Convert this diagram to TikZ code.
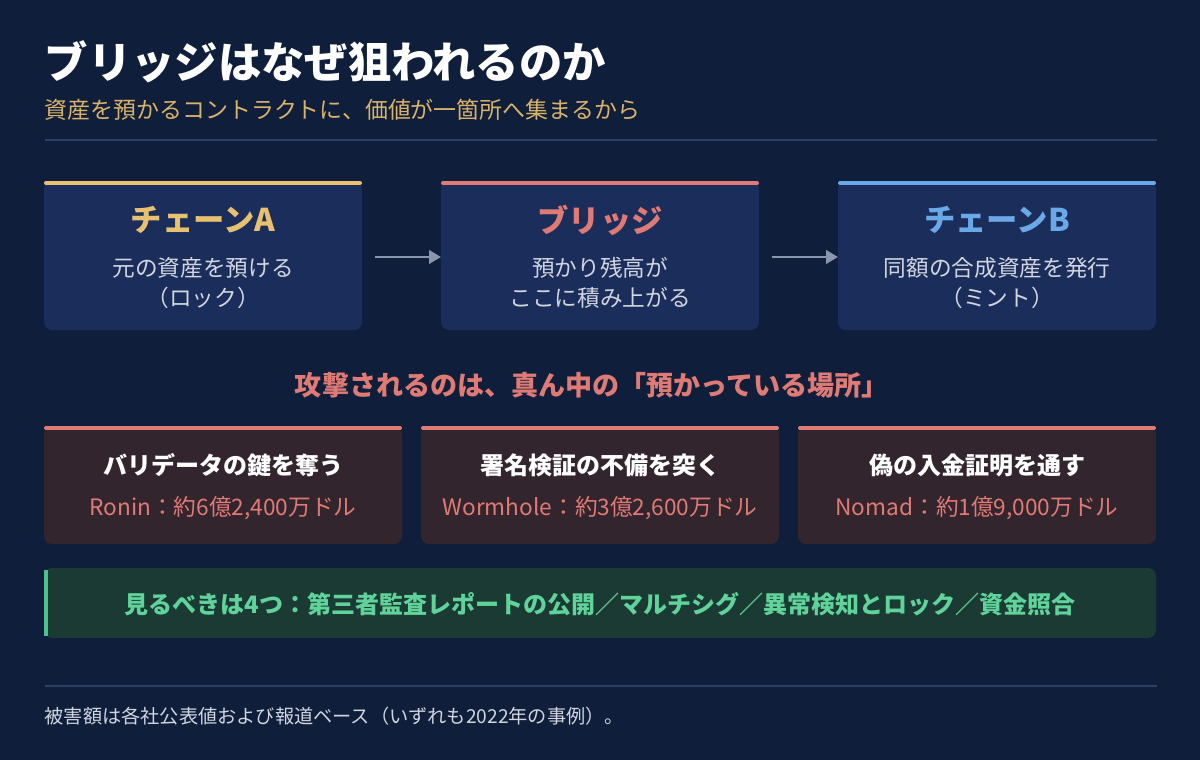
\documentclass[tikz,border=0pt]{standalone}
\usepackage{fontspec}
\setmainfont{Noto Sans CJK JP}
\usetikzlibrary{arrows.meta}
\definecolor{bg}{HTML}{0F1E3A}
\definecolor{card}{HTML}{1B2D5A}
\definecolor{ycol}{HTML}{E8C170}
\definecolor{rcol}{HTML}{E07A74}
\definecolor{bcol}{HTML}{6AA8E8}
\definecolor{acard}{HTML}{33252E}
\definecolor{gcard}{HTML}{1B3A34}
\definecolor{gbar}{HTML}{4CC38A}
\definecolor{gtext}{HTML}{5FD39A}
\definecolor{body}{HTML}{D0D5E0}
\definecolor{rule}{HTML}{2E3F66}
\definecolor{arr}{HTML}{8A96AD}
\definecolor{sub}{HTML}{D9B36A}
\begin{document}
\begin{tikzpicture}[x=0.75pt,y=-0.75pt,
  card/.style={fill=card,rounded corners=6pt,draw=none},
  acard/.style={fill=acard,rounded corners=6pt,draw=none},
  bar/.style={line width=3pt,line cap=round},
  ttl/.style={font=\fontsize{23.5pt}{26pt}\selectfont\bfseries,anchor=center},
  bod/.style={font=\fontsize{17pt}{22.5pt}\selectfont,text=body,align=center,anchor=center},
  atl/.style={font=\fontsize{18pt}{20pt}\selectfont\bfseries,text=white,anchor=center},
  asb/.style={font=\fontsize{17pt}{20pt}\selectfont,text=rcol,anchor=center},
  flow/.style={draw=arr,line width=2.2pt,-{Triangle[length=9pt,width=10pt]}}]
\fill[bg] (0,0) rectangle (1200,760);
\node[anchor=west,text=white,font=\fontsize{32.5pt}{36pt}\selectfont\bfseries] (title) at (40,62) {ブリッジはなぜ狙われるのか};
\node[anchor=west,text=sub,font=\fontsize{17.2pt}{20pt}\selectfont] (subt) at (40,110) {資産を預かるコントラクトに、価値が一箇所へ集まるから};
\draw[rule,line width=1.5pt] (45,140) -- (1157,140);
\foreach \n/\x/\c in {a/44/ycol,b/441/rcol,c/838/bcol}{
  \path[card] (\x,181) rectangle ++(318,149);
  \draw[bar,\c] (\x+2,183) -- ++(314,0);
  \coordinate (\n) at (\x+159,255);
}
\node[ttl,text=ycol] (ta) at (203,220) {チェーンA};
\node[bod] (ba) at (203,283) {元の資産を預ける\\（ロック）};
\node[ttl,text=rcol] (tb) at (600,220) {ブリッジ};
\node[bod] (bb) at (600,283) {預かり残高が\\ここに積み上がる};
\node[ttl,text=bcol] (tc) at (997,220) {チェーンB};
\node[bod] (bc) at (997,283) {同額の合成資産を発行\\（ミント）};
\coordinate (a1) at (375,257); \coordinate (a2) at (441,257);
\coordinate (b1) at (772,257); \coordinate (b2) at (838,257);
\draw[flow] (a1) -- (a2);
\draw[flow] (b1) -- (b2);
\node[text=rcol,font=\fontsize{20.3pt}{23pt}\selectfont\bfseries] (mid) at (592,385) {攻撃されるのは、真ん中の「預かっている場所」};
\foreach \x in {44,421,798}{
  \path[acard] (\x,426) rectangle ++(358,118);
  \draw[bar,rcol] (\x+2,428) -- ++(354,0);
}
\node[atl] (t1) at (223,465) {バリデータの鍵を奪う};
\node[asb] (s1) at (223,508) {Ronin：約6億2,400万ドル};
\node[atl] (t2) at (600,465) {署名検証の不備を突く};
\node[asb] (s2) at (600,508) {Wormhole：約3億2,600万ドル};
\node[atl] (t3) at (977,465) {偽の入金証明を通す};
\node[asb] (s3) at (977,508) {Nomad：約1億9,000万ドル};
\path[fill=gcard,rounded corners=6pt] (44,568) rectangle (1156,638);
\draw[gbar,line width=3pt] (46,570) -- (46,636);
\node[text=gtext,font=\fontsize{18pt}{20pt}\selectfont\bfseries] (g) at (600,604) {見るべきは4つ：第三者監査レポートの公開／マルチシグ／異常検知とロック／資金照合};
\draw[rule,line width=1.5pt] (45,686) -- (1157,686);
\node[anchor=west,text=body,font=\fontsize{14.4pt}{17pt}\selectfont] (foot) at (40,716) {被害額は各社公表値および報道ベース（いずれも2022年の事例）。};
\end{tikzpicture}
\end{document}
